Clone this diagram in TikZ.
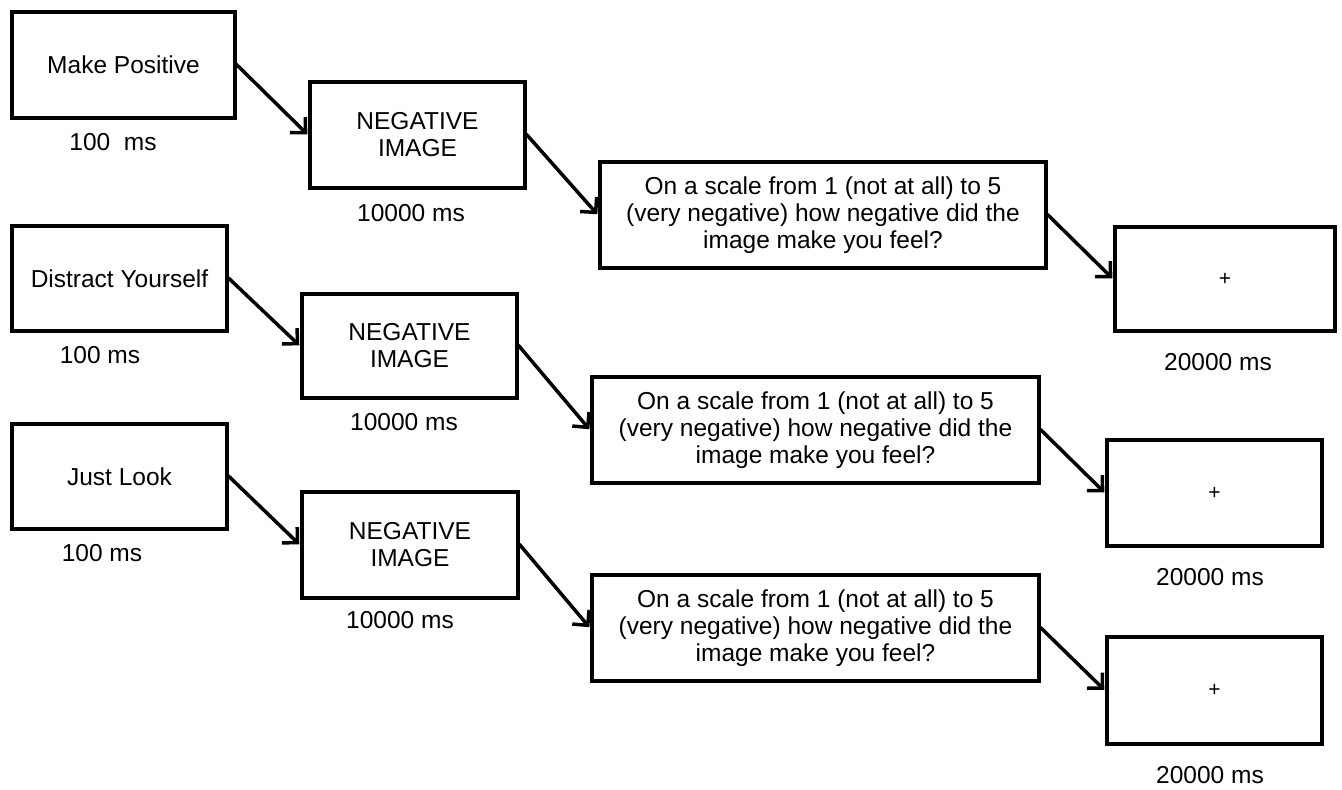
\documentclass[tikz,border=0pt]{standalone}
\usepackage{fontspec}
\setmainfont{Liberation Sans}
\usetikzlibrary{arrows.meta,shadows}
\tikzset{
  box/.style={draw=black, line width=4pt, fill=white, inner sep=0pt, align=center,
    font=\fontsize{24.5}{27}\selectfont,
    drop shadow={opacity=0.25, shadow xshift=1.5pt, shadow yshift=-1.5pt}},
  lbl/.style={font=\fontsize{24.5}{27}\selectfont, inner sep=0pt},
  flow/.style={line width=3.5pt, -{Straight Barb[length=11pt,width=22pt,line width=3.5pt]}, shorten <=-1pt, shorten >=1pt},
}
\begin{document}
\begin{tikzpicture}[x=1pt,y=-1pt]
\useasboundingbox (0,0) rectangle (1342,790);
% row 1
\node[box, minimum width=223pt, minimum height=106pt] (a1) at (123.5,65) {Make Positive};
\node[box, minimum width=215pt, minimum height=106pt] (b1) at (417.5,135) {NEGATIVE\\IMAGE};
\node[box, minimum width=446pt, minimum height=106pt] (c1) at (823,215) {On a scale from 1 (not at all) to 5\\(very negative) how negative did the\\image make you feel?};
\node[box, minimum width=220pt, minimum height=104pt, font=\fontsize{21}{24}\selectfont] (d1) at (1225,279) {+};
\node[lbl] (ta1) at (113,142) {100\ \ ms};
\node[lbl] (tb1) at (411,213) {10000 ms};
\node[lbl] (td1) at (1218,362) {20000 ms};
% row 2
\node[box, minimum width=215pt, minimum height=105pt] (a2) at (119.5,278.5) {Distract Yourself};
\node[box, minimum width=215pt, minimum height=104pt] (b2) at (409.5,346) {NEGATIVE\\IMAGE};
\node[box, minimum width=447pt, minimum height=106pt] (c2) at (815.5,430) {On a scale from 1 (not at all) to 5\\(very negative) how negative did the\\image make you feel?};
\node[box, minimum width=215pt, minimum height=106pt, font=\fontsize{21}{24}\selectfont] (d2) at (1214.5,493) {+};
\node[lbl] (ta2) at (100,355) {100 ms};
\node[lbl] (tb2) at (404,422) {10000 ms};
\node[lbl] (td2) at (1210,577) {20000 ms};
% row 3
\node[box, minimum width=215pt, minimum height=105pt] (a3) at (119.5,476.5) {Just Look};
\node[box, minimum width=216pt, minimum height=106pt] (b3) at (410,545) {NEGATIVE\\IMAGE};
\node[box, minimum width=447pt, minimum height=106pt] (c3) at (815.5,628) {On a scale from 1 (not at all) to 5\\(very negative) how negative did the\\image make you feel?};
\node[box, minimum width=215pt, minimum height=107pt, font=\fontsize{21}{24}\selectfont] (d3) at (1214.5,690.5) {+};
\node[lbl] (ta3) at (102,553) {100 ms};
\node[lbl] (tb3) at (400,620) {10000 ms};
\node[lbl] (td3) at (1210,775) {20000 ms};
% arrows
\foreach \r in {1,2,3}{
  \draw[flow] (a\r.east) -- (b\r.west);
  \draw[flow] (b\r.east) -- (c\r.west);
  \draw[flow] (c\r.east) -- (d\r.west);
}
\end{tikzpicture}
\end{document}
